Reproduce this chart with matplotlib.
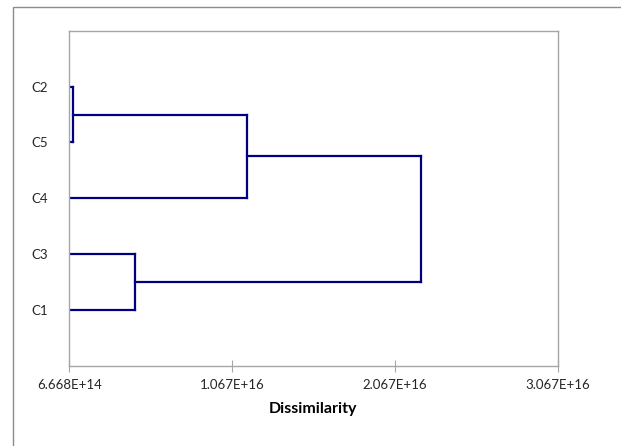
import matplotlib.pyplot as plt
from matplotlib.patches import Rectangle

# leaves from bottom to top
leaves = ['C1', 'C3', 'C4', 'C5', 'C2']

# merges: (left node, right node, dissimilarity)
merge_a = ['C2', 'C3', 'C2+C5', 'C2+C5+C4']
merge_b = ['C5', 'C1', 'C4', 'C3+C1']
merge_h = [8.8e14, 4.70e15, 1.156e16, 2.227e16]

x_ticks = [6.668e14, 1.067e16, 2.067e16, 3.067e16]
x_labels = ['6.668E+14', '1.067E+16', '2.067E+16', '3.067E+16']

plt.rcParams['font.family'] = ['Lato', 'DejaVu Sans']
line_col = '#00007f'
grey = '#a6a6a6'

fig = plt.figure(figsize=(6.21, 4.46), dpi=100)
ax = fig.add_axes([0.1116, 0.1794, 0.7863, 0.7518])

# outer chart border (cut off at right / bottom)
fig.add_artist(Rectangle((0.0205, -0.1), 1.2, 1.085, transform=fig.transFigure,
                         fill=False, edgecolor='#8c8c8c', linewidth=1.0))

x0 = x_ticks[0]
pos = {name: i + 1 for i, name in enumerate(leaves)}
height = {name: x0 for name in leaves}

for a, b, h in zip(merge_a, merge_b, merge_h):
    ya, yb = pos[a], pos[b]
    ax.plot([height[a], h], [ya, ya], color=line_col, lw=1.6, solid_capstyle='projecting')
    ax.plot([height[b], h], [yb, yb], color=line_col, lw=1.6, solid_capstyle='projecting')
    ax.plot([h, h], [ya, yb], color=line_col, lw=1.6, solid_capstyle='projecting')
    node = a + '+' + b
    pos[node] = (ya + yb) / 2
    height[node] = h

ax.set_xlim(x_ticks[0], x_ticks[-1])
ax.set_ylim(0, 6)
ax.set_xticks(x_ticks)
ax.set_xticklabels(x_labels, fontsize=9.5, color='#262626')
ax.set_yticks(range(1, len(leaves) + 1))
ax.set_yticklabels(leaves, fontsize=9.5, color='#262626')
ax.tick_params(axis='x', direction='inout', length=9, color=grey, pad=5)
ax.tick_params(axis='y', length=0, pad=27)
for ticklab in ax.get_yticklabels():
    ticklab.set_horizontalalignment('left')
for s in ax.spines.values():
    s.set_color(grey)
    s.set_linewidth(1.0)

ax.set_xlabel('Dissimilarity', fontsize=11.5, fontweight='bold', labelpad=8)

fig.savefig('out.png', dpi=100)
